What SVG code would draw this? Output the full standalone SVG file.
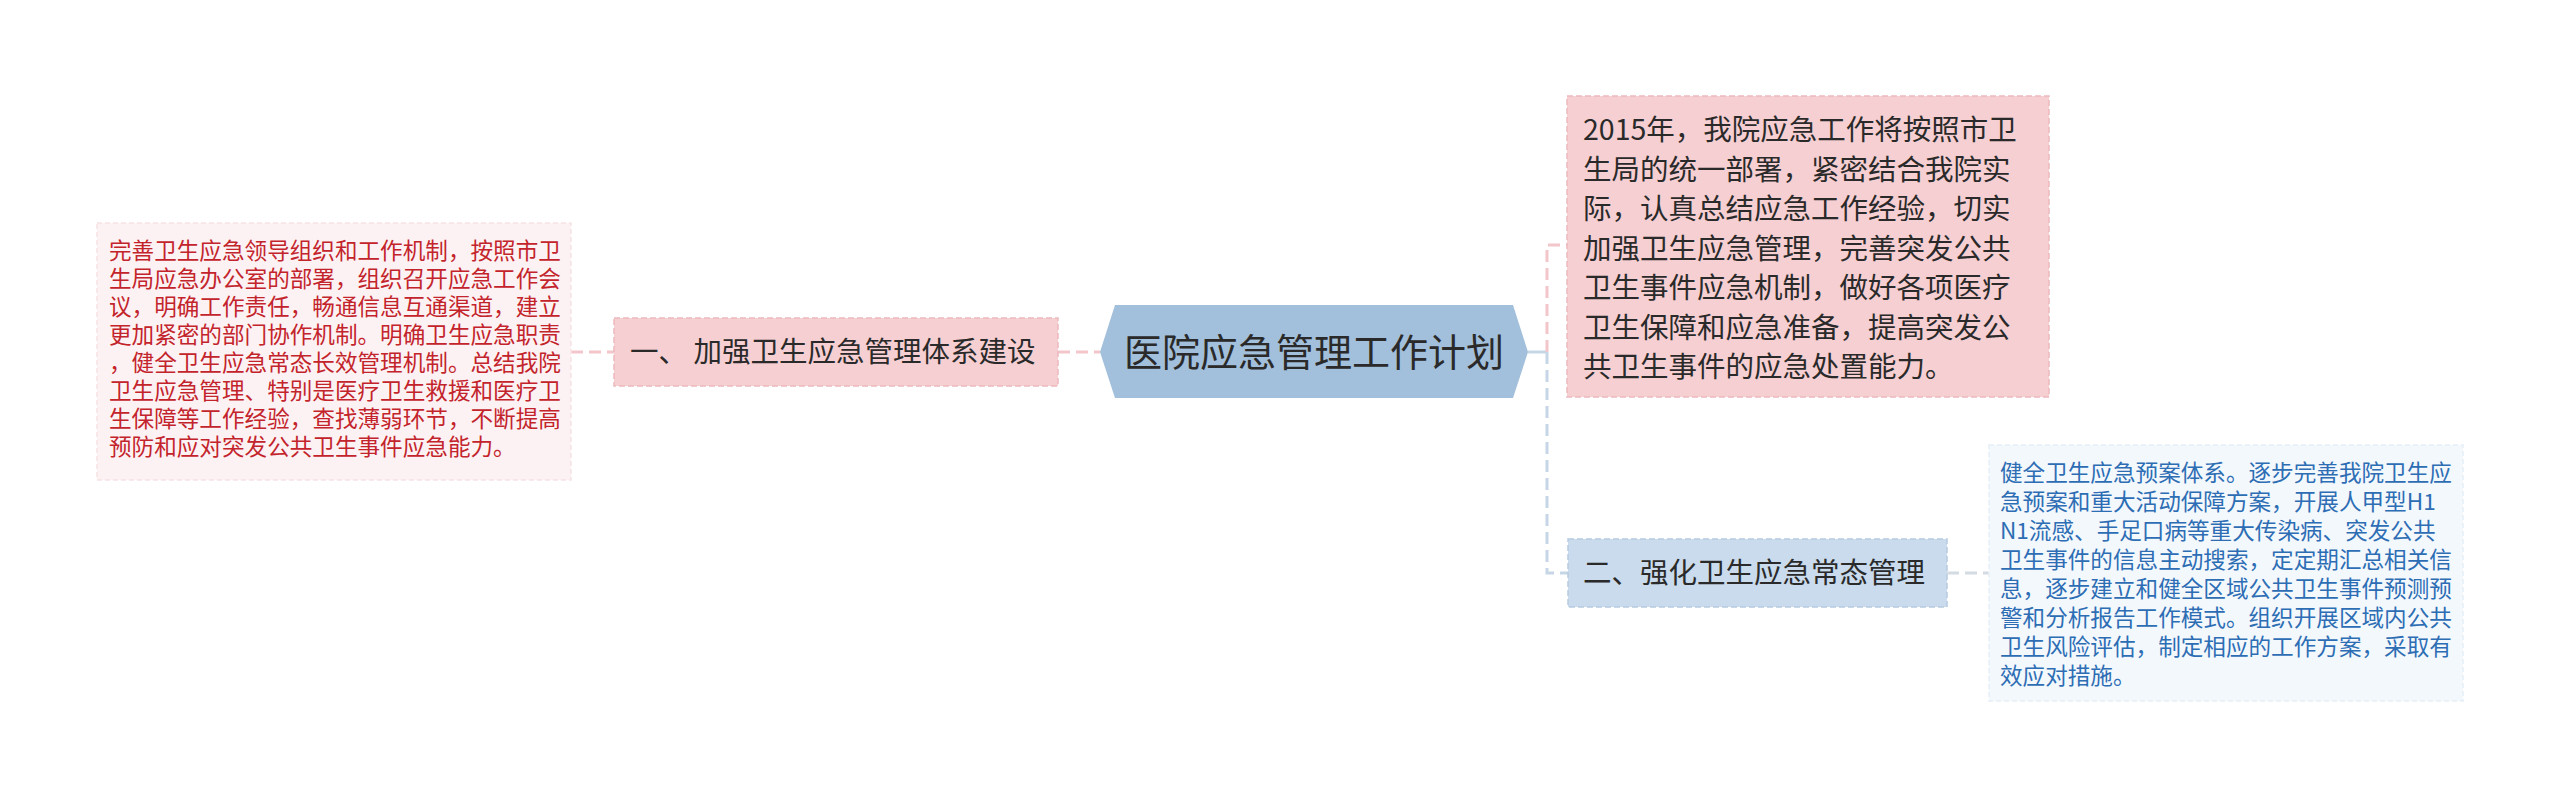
<svg xmlns="http://www.w3.org/2000/svg" width="2560" height="798" viewBox="0 0 2560 798">
<style>
text{font-family:"Microsoft YaHei","Noto Sans CJK SC","Noto Sans",sans-serif;}
.dark{fill:#2a2a2a;}
.red{fill:#c3242c;font-size:22.6px;}
.blue{fill:#2d6db4;font-size:22.6px;}
.mid{font-size:28.5px;}
.conn{fill:none;stroke-width:3;stroke-dasharray:12 6;}
.pk{stroke:#f2c6ca;}
.bl{stroke:#c6d6e6;}
</style>
<rect x="0" y="0" width="2560" height="798" fill="#ffffff"/>
<g id="connectors">
<path class="conn pk" d="M571 352 H614"/>
<path class="conn pk" d="M1058 352 H1100"/>
<path d="M1528 352 H1547" fill="none" stroke="#c6d6e6" stroke-width="3"/>
<path class="conn pk" d="M1547 352 V245 H1567"/>
<path class="conn bl" d="M1547 352 V573 H1568"/>
<path class="conn" stroke="#d4dbe2" d="M1947 573 H1989"/>
</g>
<g id="leaf-left">
<rect x="97" y="223" width="474" height="257" fill="#fdf2f3" stroke="#f6e2e4" stroke-width="1.5" stroke-dasharray="5 3"/>
<text class="red" x="109" y="259">完善卫生应急领导组织和工作机制，按照市卫</text>
<text class="red" x="109" y="287">生局应急办公室的部署，组织召开应急工作会</text>
<text class="red" x="109" y="315">议，明确工作责任，畅通信息互通渠道，建立</text>
<text class="red" x="109" y="343">更加紧密的部门协作机制。明确卫生应急职责</text>
<text class="red" x="109" y="371">，健全卫生应急常态长效管理机制。总结我院</text>
<text class="red" x="109" y="399">卫生应急管理、特别是医疗卫生救援和医疗卫</text>
<text class="red" x="109" y="427">生保障等工作经验，查找薄弱环节，不断提高</text>
<text class="red" x="109" y="455">预防和应对突发公共卫生事件应急能力。</text>
</g>
<g id="branch-1">
<rect x="614" y="318" width="444" height="68" fill="#f6cfd2" stroke="#ebb9bd" stroke-width="1.5" stroke-dasharray="6 3"/>
<text class="dark mid" x="630" y="362">一、 加强卫生应急管理体系建设</text>
</g>
<g id="root">
<polygon points="1100,352 1115,305 1513,305 1528,352 1513,398 1115,398" fill="#a2bfdb"/>
<text class="dark" x="1314" y="366" font-size="38" text-anchor="middle">医院应急管理工作计划</text>
</g>
<g id="leaf-top-right">
<rect x="1567" y="96" width="482" height="301" fill="#f6cfd2" stroke="#ebb9bd" stroke-width="1.5" stroke-dasharray="6 3"/>
<text class="dark mid" x="1583" y="140">2015年，我院应急工作将按照市卫</text>
<text class="dark mid" x="1583" y="179.5">生局的统一部署，紧密结合我院实</text>
<text class="dark mid" x="1583" y="219">际，认真总结应急工作经验，切实</text>
<text class="dark mid" x="1583" y="258.5">加强卫生应急管理，完善突发公共</text>
<text class="dark mid" x="1583" y="298">卫生事件应急机制，做好各项医疗</text>
<text class="dark mid" x="1583" y="337.5">卫生保障和应急准备，提高突发公</text>
<text class="dark mid" x="1583" y="377">共卫生事件的应急处置能力。</text>
</g>
<g id="branch-2">
<rect x="1568" y="539" width="379" height="68" fill="#c9dbec" stroke="#b6cbe1" stroke-width="1.5" stroke-dasharray="6 3"/>
<text class="dark mid" x="1583" y="583">二、强化卫生应急常态管理</text>
</g>
<g id="leaf-bottom-right">
<rect x="1989" y="445" width="474" height="256" fill="#f3f8fd" stroke="#e6eef7" stroke-width="1.5" stroke-dasharray="5 3"/>
<text class="blue" x="2000" y="481">健全卫生应急预案体系。逐步完善我院卫生应</text>
<text class="blue" x="2000" y="510">急预案和重大活动保障方案，开展人甲型H1</text>
<text class="blue" x="2000" y="539">N1流感、手足口病等重大传染病、突发公共</text>
<text class="blue" x="2000" y="568">卫生事件的信息主动搜索，定定期汇总相关信</text>
<text class="blue" x="2000" y="597">息，逐步建立和健全区域公共卫生事件预测预</text>
<text class="blue" x="2000" y="626">警和分析报告工作模式。组织开展区域内公共</text>
<text class="blue" x="2000" y="655">卫生风险评估，制定相应的工作方案，采取有</text>
<text class="blue" x="2000" y="684">效应对措施。</text>
</g>
</svg>
